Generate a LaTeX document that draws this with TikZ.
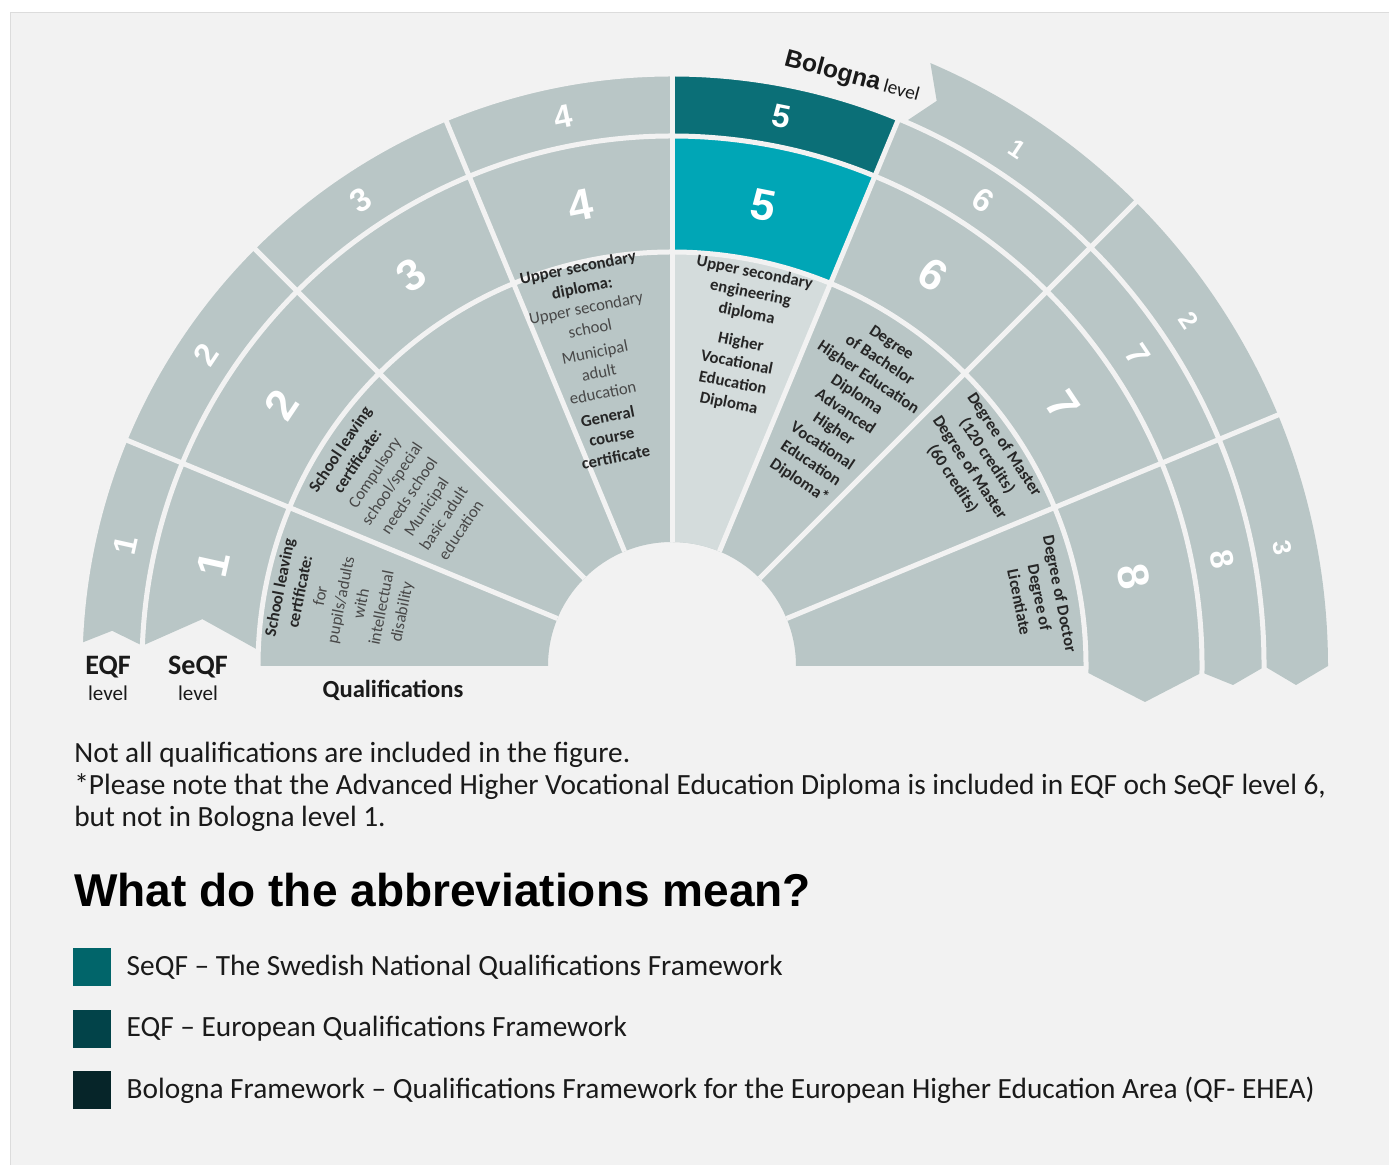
\documentclass[tikz,border=0pt]{standalone}
\usepackage{fontspec}
\setmainfont{Carlito}
\newfontfamily\numfont{Liberation Sans}
\usepackage{tikz}
\usetikzlibrary{shapes,arrows,positioning}

\definecolor{Paper}{HTML}{F2F2F2}
\definecolor{Edge}{HTML}{DCDCDC}
\definecolor{Ring}{HTML}{B9C6C6}
\definecolor{RingLight}{HTML}{D4DCDC}
\definecolor{SeqfCyan}{HTML}{00A6B6}
\definecolor{EqfTeal}{HTML}{0B6F77}
\definecolor{KeySeqf}{HTML}{01656A}
\definecolor{KeyEqf}{HTML}{024349}
\definecolor{KeyBologna}{HTML}{062529}
\definecolor{Ink}{HTML}{1A1A1A}
\definecolor{QualInk}{HTML}{262626}
\definecolor{QualLite}{HTML}{484848}

\newcommand{\qb}[1]{\textbf{#1}}
\newcommand{\ql}[1]{\textcolor{QualLite}{#1}}

\tikzstyle{Gap}      = [draw=Paper, line width=0.1cm]
\tikzstyle{SeqfNum}  = [text=white, font=\numfont\bfseries\fontsize{25}{25}\selectfont]
\tikzstyle{EqfNum}   = [text=white, font=\numfont\bfseries\fontsize{18.5}{18.5}\selectfont]
\tikzstyle{BolNum}   = [text=white, font=\numfont\bfseries\fontsize{14.5}{14.5}\selectfont]
\tikzstyle{Qual}     = [align=center, text=QualInk, inner sep=0pt, font=\fontsize{9.5}{11.8}\selectfont]
\tikzstyle{QualBold} = [Qual, font=\bfseries\fontsize{9.5}{11.8}\selectfont]
\tikzstyle{Tag}      = [text=Ink, inner sep=0pt, font=\bfseries\fontsize{16}{16}\selectfont]
\tikzstyle{TagSub}   = [text=Ink, inner sep=0pt, font=\fontsize{12}{12}\selectfont]
\tikzstyle{Note}     = [text=Ink, inner sep=0pt, align=left, font=\fontsize{16.7}{18.1}\selectfont]
\tikzstyle{KeyBox}   = [minimum size=0.76cm, inner sep=0pt]
\tikzstyle{KeyText}  = [text=Ink, inner sep=0pt, font=\fontsize{16.7}{18.1}\selectfont]

\begin{document}
\begin{tikzpicture}[x=0.02cm, y=0.02cm]
  \useasboundingbox (-672,-499) rectangle (717,666);
  \fill[white] (-672,-499) rectangle (717,666);
  \filldraw[fill=Paper, draw=Edge] (-662,-499) rectangle (717,654);

  % qualifications
  \fill[Ring] (0:124) arc[start angle=0, end angle=180, radius=124] -- (180:414) arc[start angle=180, end angle=0, radius=414] -- cycle;
  \fill[RingLight] (90:124) arc[start angle=90, end angle=67.5, radius=124] -- (67.5:414) arc[start angle=67.5, end angle=90, radius=414] -- cycle;

  % SeQF
  \fill[Ring] (157.5:414) arc[start angle=157.5, end angle=22.5, radius=414] -- (22.5:530) arc[start angle=22.5, end angle=157.5, radius=530] -- cycle;
  \fill[SeqfCyan] (90:414) arc[start angle=90, end angle=67.5, radius=414] -- (67.5:530) arc[start angle=67.5, end angle=90, radius=530] -- cycle;
  \fill[Ring] (157.5:530) arc[start angle=157.5, end angle=177.8, radius=530] -- (174.3:472) -- (177.8:414) arc[start angle=177.8, end angle=157.5, radius=414] -- cycle;
  \fill[Ring] (22.5:414) arc[start angle=22.5, end angle=-0.8, radius=414] -- (473,-36) -- (-0.7:530) arc[start angle=-0.7, end angle=22.5, radius=530] -- cycle;

  % EQF
  \fill[Ring] (157.5:530) arc[start angle=157.5, end angle=22.5, radius=530] -- (22.5:592) arc[start angle=22.5, end angle=157.5, radius=592] -- cycle;
  \fill[EqfTeal] (90:530) arc[start angle=90, end angle=67.5, radius=530] -- (67.5:592) arc[start angle=67.5, end angle=90, radius=592] -- cycle;
  \fill[Ring] (157.5:592) arc[start angle=157.5, end angle=177.8, radius=592] -- (176.4:561) -- (177.8:530) arc[start angle=177.8, end angle=157.5, radius=530] -- cycle;
  \fill[Ring] (22.5:530) arc[start angle=22.5, end angle=-0.7, radius=530] -- (561,-19) -- (-0.1:592) arc[start angle=-0.1, end angle=22.5, radius=592] -- cycle;

  % Bologna
  \fill[Ring] (66.8:592) arc[start angle=66.8, end angle=22.5, radius=592] -- (22.5:656) arc[start angle=22.5, end angle=66.8, radius=656] -- (64.9:624) -- cycle;
  \fill[Ring] (22.5:592) arc[start angle=22.5, end angle=0, radius=592] -- (624,-19) -- (0:656) arc[start angle=0, end angle=22.5, radius=656] -- cycle;

  \foreach \t in {67.5,90,112.5,135,157.5}
    \draw[Gap] (\t:124) -- (\t:592);
  \foreach \t in {22.5,45}
    \draw[Gap] (\t:124) -- (\t:660);
  \foreach \r in {414,530,592}
    \draw[Gap] (-4:\r) arc[start angle=-4, end angle=184, radius=\r];

  \foreach \k/\ang in {1/167.5,2/146.25,3/123.75,4/101.25,5/78.75,6/56.25,7/33.75,8/11}
  {
    \node[SeqfNum, rotate=\ang-90] (seqf\k) at (\ang:470) {\k};
    \node[EqfNum, rotate=\ang-90]  (eqf\k)  at (\ang:560) {\k};
  }
  \foreach \k/\ang in {1/56.25,2/33.75,3/11}
    \node[BolNum, rotate=\ang-90] (bol\k) at (\ang:622) {\k};

  \node[Qual, rotate=78.75] (qual1) at (168.7:337)
    {\qb{School leaving}\\\qb{certificate:}\\\ql{for}\\\ql{pupils/adults}\\\ql{with}\\\ql{intellectual}\\\ql{disability}};
  \node[Qual, rotate=56.25] (qual2) at (147:324)
    {\qb{School leaving}\\\qb{certificate:}\\\ql{Compulsory}\\\ql{school/special}\\\ql{needs school}\\\ql{Municipal}\\\ql{basic adult}\\\ql{education}};
  \node[Qual, rotate=11.25] (qual4) at (103.9:313)
    {\qb{Upper secondary}\\\qb{diploma:}\\\ql{Upper secondary}\\\ql{school}\\[2pt]\ql{Municipal}\\\ql{adult}\\\ql{education}\\[2pt]\qb{General}\\\qb{course}\\\qb{certificate}};
  \node[QualBold, rotate=-11.25] (qual5) at (78:335)
    {Upper secondary\\engineering\\diploma\\[5pt]Higher\\Vocational\\Education\\Diploma};
  \node[QualBold, rotate=-33.75] (qual6) at (55.7:307)
    {Degree\\of Bachelor\\Higher Education\\Diploma\\Advanced\\Higher\\Vocational\\Education\\Diploma*};
  \node[QualBold, rotate=-56.25] (qual7) at (33.7:368)
    {Degree of Master\\(120 credits)\\Degree of Master\\(60 credits)};
  \node[QualBold, rotate=-78.75] (qual8) at (10.5:374)
    {Degree of Doctor\\Degree of\\Licentiate};

  \node[text=Ink, rotate=-15, inner sep=0pt] (bolname) at (73:616)
    {{\numfont\bfseries\fontsize{14}{14}\selectfont Bologna} {\fontsize{11}{11}\selectfont level}};
  \node[Tag]    (eqfname)   at (-564,-1)  {EQF};
  \node[TagSub] (eqflevel)  at (-564,-27) {level};
  \node[Tag]    (seqfname)  at (-474,-1)  {SeQF};
  \node[TagSub] (seqflevel) at (-474,-27) {level};
  \node[Tag, font=\bfseries\fontsize{14}{14}\selectfont] (qualname) at (-279,-24) {Qualifications};

  \node[Note, anchor=west] (note) at (-598,-121)
    {Not all qualifications are included in the figure.\\
     *Please note that the Advanced Higher Vocational Education Diploma is included in EQF och SeQF level 6,\\
     but not in Bologna level 1.};
  \node[anchor=west, inner sep=0pt, text=black, font=\numfont\bfseries\fontsize{26.2}{30}\selectfont] (heading) at (-598,-224)
    {What do the abbreviations mean?};

  \node[KeyBox, fill=KeySeqf]    (keyseqf)    at (-580,-301) {};
  \node[KeyBox, fill=KeyEqf]     (keyeqf)     at (-580,-363) {};
  \node[KeyBox, fill=KeyBologna] (keybologna) at (-580,-424) {};
  \node[KeyText, right=0.3cm of keyseqf]    (textseqf)    {SeQF – The Swedish National Qualifications Framework};
  \node[KeyText, right=0.3cm of keyeqf]     (texteqf)     {EQF – European Qualifications Framework};
  \node[KeyText, right=0.3cm of keybologna] (textbologna) {Bologna Framework – Qualifications Framework for the European Higher Education Area (QF- EHEA)};
\end{tikzpicture}
\end{document}
